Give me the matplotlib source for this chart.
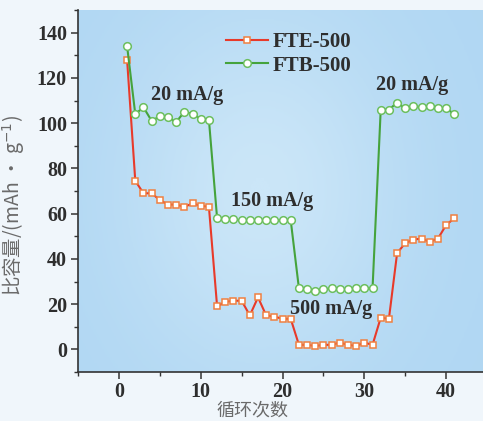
import numpy as np
import matplotlib
matplotlib.use("Agg")
import matplotlib.pyplot as plt
from matplotlib.ticker import MultipleLocator
from matplotlib.colors import LinearSegmentedColormap

cycles = list(range(1, 42))
fte_500 = [128, 74.5, 69, 69, 66, 64, 64, 63, 64.5, 63.5, 63,
           19, 21, 21.5, 21.5, 15, 23, 15, 14.5, 13.5, 13.5,
           2, 2, 1.5, 2, 2, 3, 2, 1.5, 3, 2,
           14, 13.5, 42.5, 47, 48.5, 49, 47.5, 49, 55, 58]
ftb_500 = [134, 104, 107, 101, 103, 102.5, 100.5, 105, 104, 102, 101.5,
           58, 57.5, 57.5, 57, 57, 57, 57, 57, 57, 57,
           27, 26.5, 26, 26.5, 27, 26.5, 26.5, 27, 27, 27,
           106, 106, 109, 106.5, 107.5, 107, 107.5, 106.5, 106.5, 104]
rate_labels = ["20 mA/g", "150 mA/g", "500 mA/g", "20 mA/g"]
rate_label_pos = [(8.3, 112.5), (18.7, 65.5), (25.9, 17.8), (35.8, 117)]

serif = ['Liberation Serif', 'DejaVu Serif']
txt = '#2e2e2e'

fig = plt.figure(figsize=(4.83, 4.21), dpi=100)
fig.patch.set_facecolor('#f0f6fb')
ax = fig.add_axes([0.1615, 0.1164, 0.8385, 0.8598])

# background gradient
gx = np.linspace(0, 1, 256)
gy = np.linspace(0, 1, 128)
X, Y = np.meshgrid(gx, gy)
G = np.clip(0.35 + 0.65 * np.exp(-((X - 0.45) ** 2 / 0.12 + (Y - 0.5) ** 2 / 0.25)), 0, 1)
cmap = LinearSegmentedColormap.from_list('bg', ['#a2cff0', '#cbe6f8'])
ax.imshow(G, extent=[-5, 44.5, -10, 150], aspect='auto', cmap=cmap, zorder=0,
          origin='lower', vmin=0, vmax=1)

ax.plot(cycles, fte_500, color='#e83a2a', lw=1.5, marker='s', ms=5,
        mfc='white', mec='#f08040', mew=1.1, label='FTE-500', zorder=3)
ax.plot(cycles, ftb_500, color='#45a33c', lw=1.5, marker='o', ms=5.5,
        mfc='white', mec='#6cbf5e', mew=1.1, label='FTB-500', zorder=3)

for t, (x, y) in zip(rate_labels, rate_label_pos):
    ax.text(x, y, t, ha='center', va='center', family=serif, weight='bold',
            fontsize=14.5, color=txt, zorder=4)

ax.set_xlim(-5, 44.5)
ax.set_ylim(-10, 150)
ax.xaxis.set_major_locator(MultipleLocator(10))
ax.xaxis.set_minor_locator(MultipleLocator(5))
ax.yaxis.set_major_locator(MultipleLocator(20))
ax.yaxis.set_minor_locator(MultipleLocator(10))
ax.spines['top'].set_visible(False)
ax.spines['right'].set_visible(False)
for s in ['left', 'bottom']:
    ax.spines[s].set_color('#333333')
    ax.spines[s].set_linewidth(1.2)
ax.tick_params(which='major', direction='out', length=5, width=1.1, color='#333333', labelcolor=txt, pad=3)
ax.tick_params(axis='x', which='major', pad=2)
ax.tick_params(which='minor', direction='out', length=3, width=1.0, color='#333333')
for lab in ax.get_xticklabels() + ax.get_yticklabels():
    lab.set_family(serif)
    lab.set_weight('bold')
    lab.set_fontsize(14.5)

ax.set_xlabel('循环次数', family=['Noto Sans CJK SC', 'DejaVu Sans'], fontsize=13,
              color='#6a6a6a')
ax.xaxis.set_label_coords(0.432, -0.082)
ax.set_ylabel('比容量/(mAh · g$^{-1}$)', family=['Noto Sans CJK SC', 'DejaVu Sans'],
              fontsize=14, color='#6a6a6a')
ax.yaxis.set_label_coords(-0.125, 0.46)

leg = ax.legend(loc='upper left', bbox_to_anchor=(0.32, 0.99), frameon=False,
                prop={'family': serif, 'weight': 'bold', 'size': 15},
                handlelength=2.0, handletextpad=0.2, labelspacing=0.15)
for t in leg.get_texts():
    t.set_color(txt)

fig.savefig('out.png', dpi=100, facecolor=fig.get_facecolor())
